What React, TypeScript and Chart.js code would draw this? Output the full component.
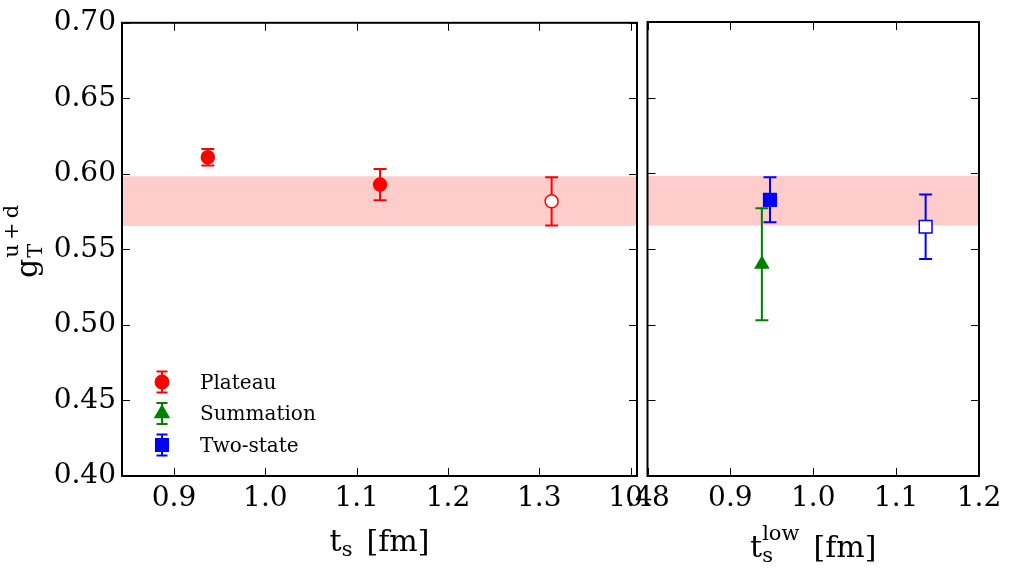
import { useEffect, useRef } from 'react';
import { Chart, registerables } from 'chart.js';
import { drawPoint } from 'chart.js/helpers';

Chart.register(...registerables);

const FONT = '"DejaVu Serif", serif';

// Plateau estimates against source-sink separation t_s [fm]
const plateauTs = [0.937, 1.1256, 1.3135];
const plateauG = [0.611, 0.5929, 0.5818];
const plateauErr = [0.0054, 0.0104, 0.016];
const plateauOpen = [false, false, true];

// Summation method against t_s^low [fm]
const summationTs = [0.938];
const summationG = [0.540];
const summationErr = [0.037];

// Two-state fits against t_s^low [fm]
const twoStateTs = [0.9478, 1.1356];
const twoStateG = [0.5825, 0.5647];
const twoStateErr = [0.0149, 0.0213];
const twoStateOpen = [false, true];

// Final estimate band
const bandLow = 0.5655;
const bandHigh = 0.5984;

// Axis ticks
const yTicks = [0.4, 0.45, 0.5, 0.55, 0.6, 0.65, 0.7];
const xTicksLeft = [0.9, 1.0, 1.1, 1.2, 1.3, 1.4];
const xTicksRight = [0.8, 0.9, 1.0, 1.1, 1.2];

const legendItems = [
  { label: 'Plateau', color: '#ff0000', style: 'circle', radius: 6.5 },
  { label: 'Summation', color: '#008000', style: 'triangle', radius: 7.5 },
  { label: 'Two-state', color: '#0000ff', style: 'rect', radius: 8.5 },
];

const RED = '#ff0000';
const GREEN = '#008000';
const BLUE = '#0000ff';

function makeDataset(label: string, xs: number[], ys: number[], errs: number[], open: boolean[], color: string, style: string, radius: number) {
  return {
    label,
    data: xs.map((x, i) => ({ x, y: ys[i] })),
    errors: errs,
    errColor: color,
    showLine: false,
    pointStyle: style,
    pointRadius: radius,
    pointHoverRadius: radius,
    pointBackgroundColor: open.map((o) => (o ? '#ffffff' : color)),
    pointBorderColor: color,
    pointBorderWidth: 1.5,
  };
}

const bandPlugin = {
  id: 'band',
  beforeDatasetsDraw(chart: any) {
    const { ctx, chartArea, scales } = chart;
    const y1 = scales.y.getPixelForValue(bandHigh);
    const y2 = scales.y.getPixelForValue(bandLow);
    ctx.save();
    ctx.fillStyle = 'rgba(255,0,0,0.2)';
    ctx.fillRect(chartArea.left, y1, chartArea.right - chartArea.left, y2 - y1);
    ctx.restore();
  },
};

const errorBarPlugin = {
  id: 'errorBars',
  beforeDatasetsDraw(chart: any) {
    const { ctx, scales } = chart;
    ctx.save();
    chart.data.datasets.forEach((ds: any) => {
      ds.data.forEach((p: any, i: number) => {
        const e = ds.errors[i];
        const x = scales.x.getPixelForValue(p.x);
        const yt = scales.y.getPixelForValue(p.y + e);
        const yb = scales.y.getPixelForValue(p.y - e);
        ctx.strokeStyle = ds.errColor;
        ctx.lineWidth = 2;
        ctx.beginPath();
        ctx.moveTo(x, yt);
        ctx.lineTo(x, yb);
        ctx.moveTo(x - 6.5, yt);
        ctx.lineTo(x + 6.5, yt);
        ctx.moveTo(x - 6.5, yb);
        ctx.lineTo(x + 6.5, yb);
        ctx.stroke();
      });
    });
    ctx.restore();
  },
};

const framePlugin = {
  id: 'frame',
  afterDraw(chart: any) {
    const { ctx, chartArea, scales } = chart;
    const { left, right, top, bottom } = chartArea;
    ctx.save();
    ctx.strokeStyle = '#000';
    ctx.lineWidth = 1;
    ctx.beginPath();
    scales.x.ticks.forEach((t: any) => {
      const x = Math.round(scales.x.getPixelForValue(t.value)) + 0.5;
      ctx.moveTo(x, bottom);
      ctx.lineTo(x, bottom - 8);
      ctx.moveTo(x, top);
      ctx.lineTo(x, top + 8);
    });
    scales.y.ticks.forEach((t: any) => {
      const y = Math.round(scales.y.getPixelForValue(t.value)) + 0.5;
      ctx.moveTo(left, y);
      ctx.lineTo(left + 8, y);
      ctx.moveTo(right, y);
      ctx.lineTo(right - 8, y);
    });
    ctx.stroke();
    ctx.lineWidth = 2;
    ctx.strokeRect(left, top, right - left, bottom - top);
    ctx.restore();
  },
};

type Part = { text: string; size: number; dy: number };
type Piece = Part & { low?: Part };

// Draws a row of text pieces centred on cx; a piece may carry a second
// part stacked in the same column (superscript + subscript).
function drawPieces(ctx: CanvasRenderingContext2D, pieces: Piece[], cx: number, baseY: number, gap: number[]) {
  const widths = pieces.map((p) => {
    ctx.font = `${p.size}px ${FONT}`;
    let w = ctx.measureText(p.text).width;
    if (p.low) {
      ctx.font = `${p.low.size}px ${FONT}`;
      w = Math.max(w, ctx.measureText(p.low.text).width);
    }
    return w;
  });
  const total = widths.reduce((a, b) => a + b, 0) + gap.reduce((a, b) => a + b, 0);
  let x = cx - total / 2;
  ctx.textBaseline = 'alphabetic';
  ctx.textAlign = 'left';
  pieces.forEach((p, i) => {
    ctx.font = `${p.size}px ${FONT}`;
    ctx.fillText(p.text, x, baseY + p.dy);
    if (p.low) {
      ctx.font = `${p.low.size}px ${FONT}`;
      ctx.fillText(p.low.text, x, baseY + p.low.dy);
    }
    x += widths[i] + (gap[i] || 0);
  });
}

function baseOptions(xMin: number, xMax: number, xTicks: number[], yWidth: number, padRight: number, showY: boolean) {
  const tickFont = { family: FONT, size: 28 };
  return {
    animation: false,
    responsive: false,
    maintainAspectRatio: false,
    layout: { padding: { left: 0, right: padRight, top: 22, bottom: 0 } },
    plugins: { legend: { display: false }, tooltip: { enabled: false } },
    scales: {
      x: {
        type: 'linear',
        min: xMin,
        max: xMax,
        grid: { display: false, drawTicks: false },
        border: { display: false },
        ticks: {
          includeBounds: false,
          autoSkip: false,
          maxRotation: 0,
          color: '#000',
          font: tickFont,
          padding: 6,
          callback: (v: number) => v.toFixed(1),
        },
        afterBuildTicks: (s: any) => {
          s.ticks = xTicks.map((value) => ({ value }));
        },
        afterFit: (s: any) => {
          s.height = 98;
        },
      },
      y: {
        type: 'linear',
        min: 0.4,
        max: 0.7,
        grid: { display: false, drawTicks: false },
        border: { display: false },
        ticks: {
          display: showY,
          includeBounds: false,
          color: '#000',
          font: tickFont,
          padding: 6,
          callback: (v: number) => v.toFixed(2),
        },
        afterBuildTicks: (s: any) => {
          s.ticks = yTicks.map((value) => ({ value }));
        },
        afterFit: (s: any) => {
          s.width = yWidth;
        },
      },
    },
  };
}

export default function App() {
  const leftRef = useRef<HTMLCanvasElement>(null);
  const rightRef = useRef<HTMLCanvasElement>(null);

  useEffect(() => {
    document.body.style.margin = '0';

    const leftTitles = {
      id: 'leftTitles',
      afterDraw(chart: any) {
        const { ctx, chartArea } = chart;
        ctx.save();
        ctx.fillStyle = '#000';
        const cx = (chartArea.left + chartArea.right) / 2;
        drawPieces(
          ctx,
          [
            { text: 't', size: 30, dy: 0 },
            { text: 's', size: 21, dy: 5 },
            { text: '[fm]', size: 30, dy: 0 },
          ],
          cx,
          551,
          [0, 14]
        );
        // rotated y-axis title g_T^{u+d}
        ctx.translate(37, (chartArea.top + chartArea.bottom) / 2 - 8);
        ctx.rotate(-Math.PI / 2);
        drawPieces(
          ctx,
          [
            { text: 'g', size: 30, dy: 0 },
            { text: 'u\u2009+\u2009d', size: 21, dy: -19, low: { text: 'T', size: 21, dy: 5 } },
          ],
          0,
          0,
          [1]
        );
        ctx.restore();
      },
    };

    const legendPlugin = {
      id: 'errLegend',
      afterDraw(chart: any) {
        const { ctx } = chart;
        ctx.save();
        legendItems.forEach((it, i) => {
          const x = 162;
          const y = 382 + i * 31.5;
          ctx.strokeStyle = it.color;
          ctx.fillStyle = it.color;
          ctx.lineWidth = 2;
          ctx.beginPath();
          ctx.moveTo(x, y - 10.5);
          ctx.lineTo(x, y + 10.5);
          ctx.moveTo(x - 5.5, y - 10.5);
          ctx.lineTo(x + 5.5, y - 10.5);
          ctx.moveTo(x - 5.5, y + 10.5);
          ctx.lineTo(x + 5.5, y + 10.5);
          ctx.stroke();
          drawPoint(ctx, { pointStyle: it.style as any, radius: it.radius, rotation: 0, borderWidth: 1 }, x, y);
          ctx.fillStyle = '#000';
          ctx.font = `20px ${FONT}`;
          ctx.textBaseline = 'middle';
          ctx.textAlign = 'left';
          ctx.fillText(it.label, 200, y + 1.5);
        });
        ctx.restore();
      },
    };

    const rightTitles = {
      id: 'rightTitles',
      afterDraw(chart: any) {
        const { ctx, chartArea } = chart;
        ctx.save();
        ctx.fillStyle = '#000';
        const cx = (chartArea.left + chartArea.right) / 2;
        drawPieces(
          ctx,
          [
            { text: 't', size: 30, dy: 0 },
            { text: 'low', size: 21, dy: -17, low: { text: 's', size: 21, dy: 5 } },
            { text: '[fm]', size: 30, dy: 0 },
          ],
          cx,
          557,
          [0, 14]
        );
        ctx.restore();
      },
    };

    const left = new Chart(leftRef.current!, {
      type: 'scatter',
      data: {
        datasets: [makeDataset('Plateau', plateauTs, plateauG, plateauErr, plateauOpen, RED, 'circle', 6.5)],
      },
      options: baseOptions(0.843, 1.407, xTicksLeft, 122, 63, true) as any,
      plugins: [bandPlugin, errorBarPlugin, framePlugin, leftTitles, legendPlugin],
    });

    const right = new Chart(rightRef.current!, {
      type: 'scatter',
      data: {
        datasets: [
          makeDataset('Summation', summationTs, summationG, summationErr, [false], GREEN, 'triangle', 7.5),
          makeDataset('Two-state', twoStateTs, twoStateG, twoStateErr, twoStateOpen, BLUE, 'rect', 9),
        ],
      },
      options: baseOptions(0.8, 1.2, xTicksRight, 87.5, 41, false) as any,
      plugins: [bandPlugin, errorBarPlugin, framePlugin, rightTitles],
    });

    return () => {
      left.destroy();
      right.destroy();
    };
  }, []);

  return (
    <div style={{ position: 'relative', width: 1020, height: 574, background: '#fff' }}>
      <canvas ref={leftRef} width={700} height={574} style={{ position: 'absolute', left: 0, top: 0 }} />
      <canvas ref={rightRef} width={460} height={574} style={{ position: 'absolute', left: 560, top: 0 }} />
    </div>
  );
}
